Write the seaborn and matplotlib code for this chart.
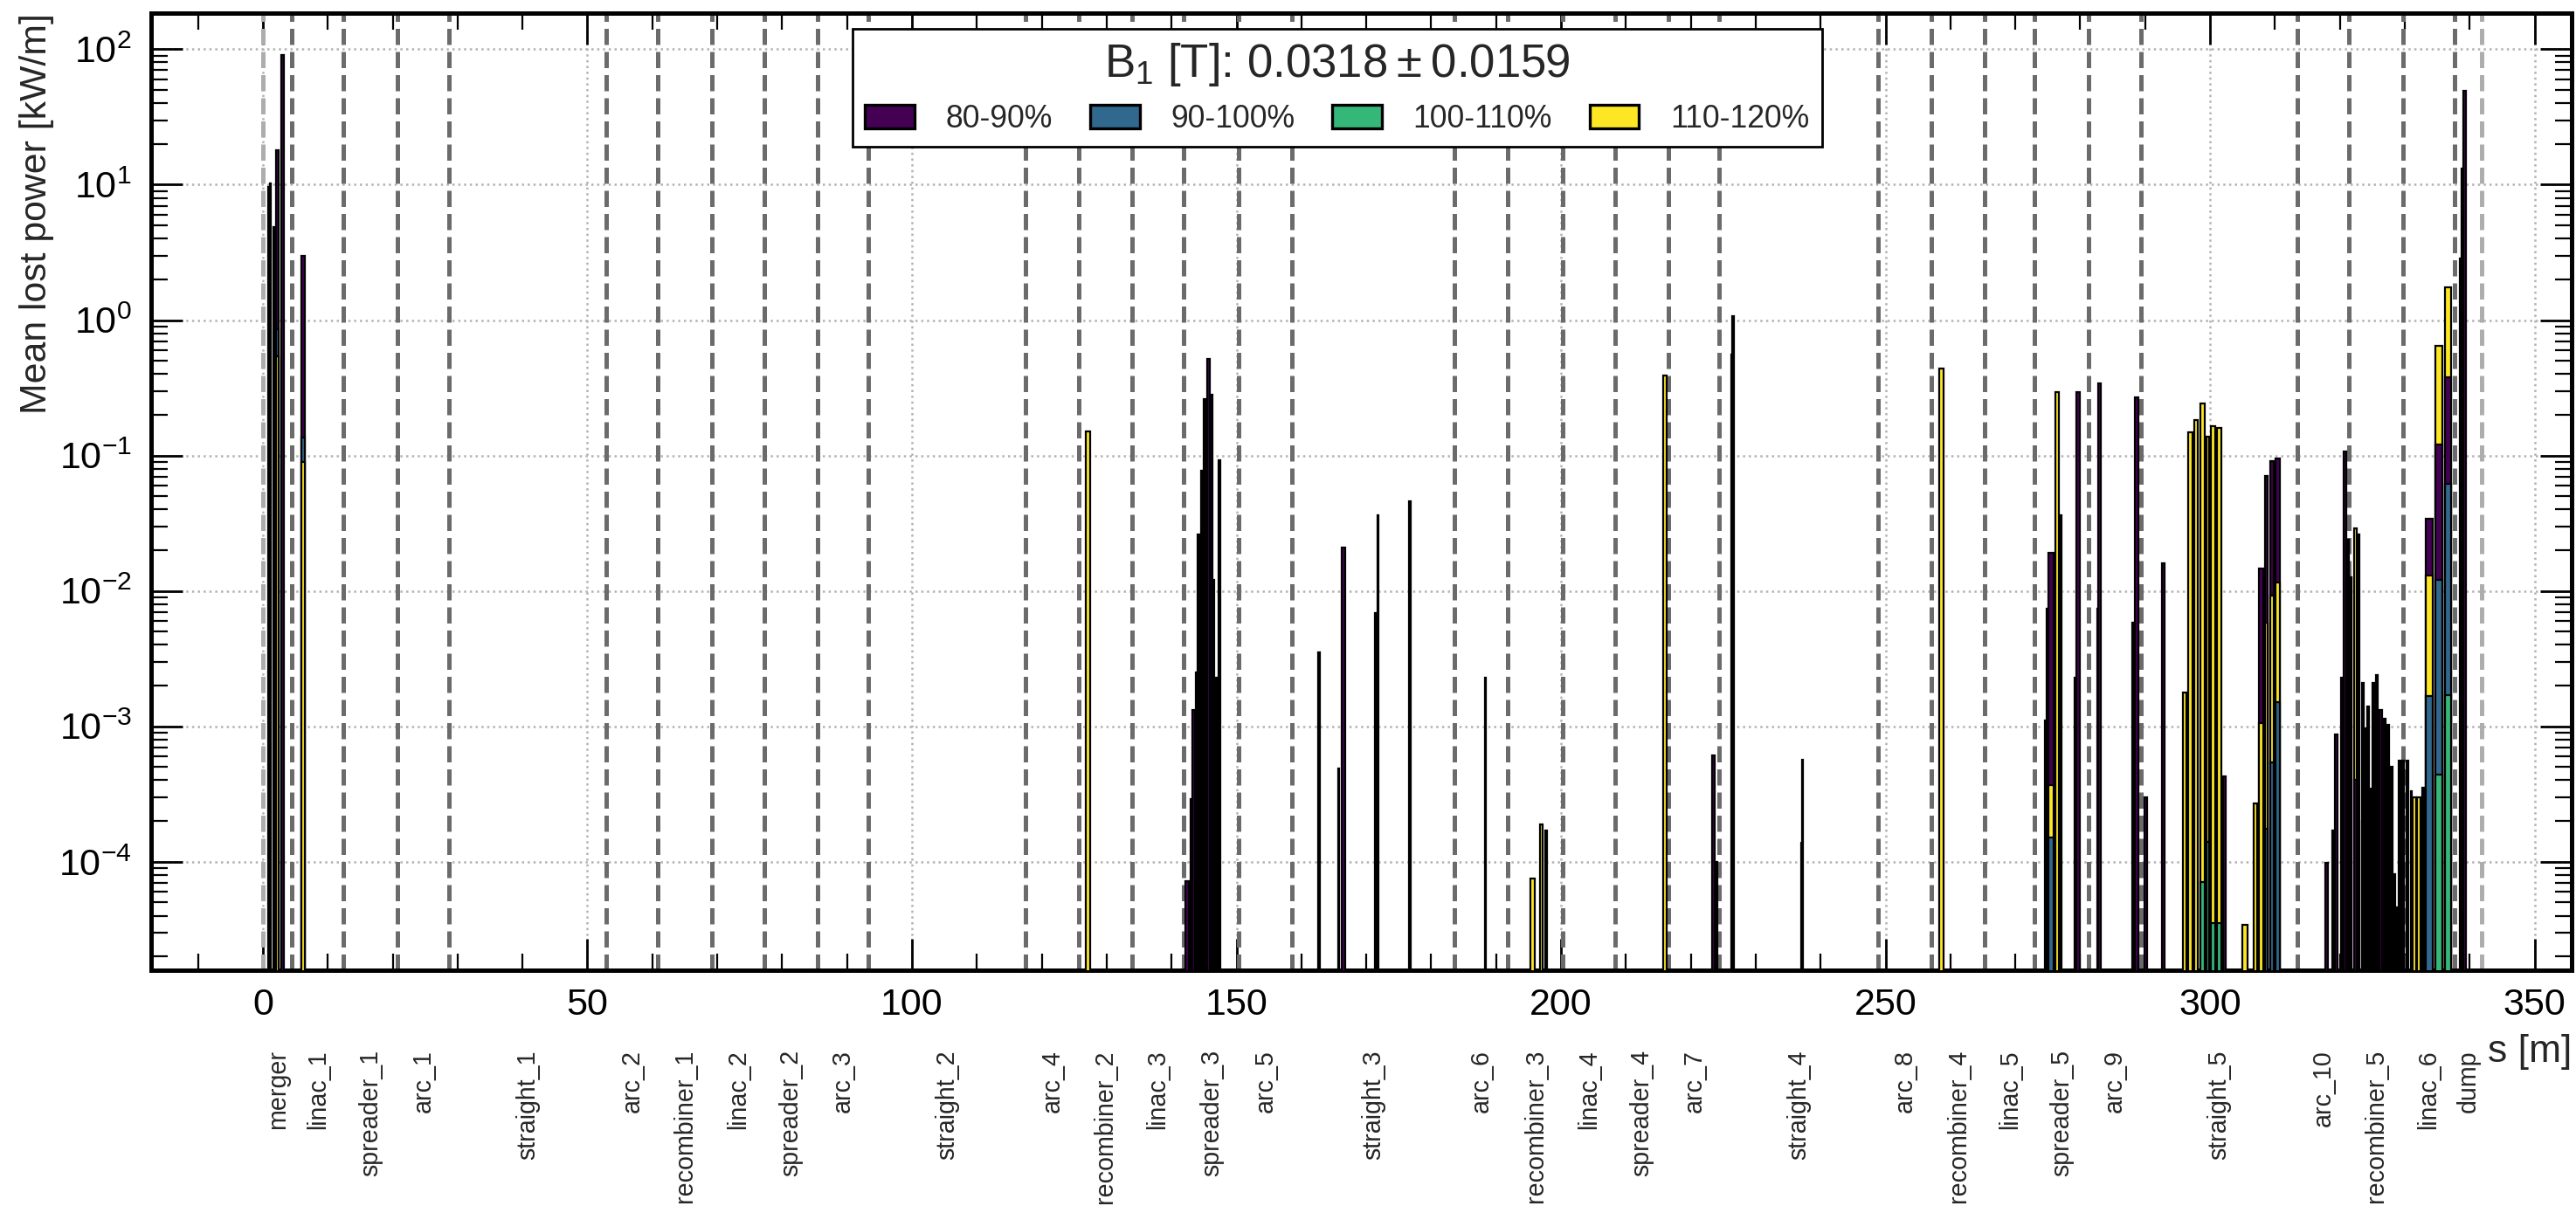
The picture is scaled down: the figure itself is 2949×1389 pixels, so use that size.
import numpy as np
import matplotlib
matplotlib.use("Agg")
import matplotlib.pyplot as plt
import seaborn as sns
from matplotlib.patches import Patch
from matplotlib.ticker import MultipleLocator, LogLocator, NullFormatter

# element centre along the machine [m] and element length [m]
elem_s = [0.85, 1.2, 1.7, 2.25, 3.07, 6.26,
          127.1,
          142.45, 143.0, 143.4, 143.8, 144.15, 144.65, 145.1, 145.7, 146.25, 146.5, 146.85, 147.4,
          162.7, 165.8, 166.5, 171.45, 171.8, 176.7, 188.4, 195.65, 197.0, 197.7,
          216.0, 223.5, 223.95, 226.25, 226.5, 237.0, 237.2, 258.6,
          274.6, 274.9, 275.5, 276.4, 276.95, 279.2, 279.7, 282.7, 282.95, 288.15, 288.65, 290.1, 292.85,
          296.1, 296.95, 297.85, 298.8, 299.65, 300.45, 301.4, 302.25, 305.4,
          306.95, 307.85, 308.7, 309.5, 310.4,
          317.95, 318.95, 319.45, 320.25, 320.8, 321.3, 321.75, 322.4, 322.9, 323.55, 323.9, 324.4, 324.75,
          325.2, 325.7, 326.3, 326.9, 327.45, 327.95, 328.45, 328.75, 329.15, 329.75, 330.35, 330.95,
          331.5, 332.15, 332.8, 333.75, 335.2, 336.7, 338.55, 338.8, 339.25]
elem_w = [0.15, 0.12, 0.12, 0.5, 0.45, 0.55,
          0.62,
          0.55, 0.12, 0.3, 0.12, 0.25, 0.15, 0.3, 0.45, 0.12, 0.12, 0.12, 0.35,
          0.3, 0.15, 0.5, 0.15, 0.2, 0.2, 0.12, 0.6, 0.45, 0.2,
          0.62, 0.45, 0.2, 0.12, 0.3, 0.12, 0.2, 0.62,
          0.12, 0.12, 0.7, 0.55, 0.2, 0.12, 0.5, 0.12, 0.4, 0.2, 0.5, 0.5, 0.4,
          0.5, 0.6, 0.55, 0.7, 0.4, 0.6, 0.65, 0.4, 0.75,
          0.6, 0.6, 0.45, 0.5, 0.7,
          0.4, 0.15, 0.45, 0.2, 0.45, 0.15, 0.15, 0.3, 0.3, 0.3, 0.12, 0.25, 0.12,
          0.25, 0.35, 0.3, 0.25, 0.25, 0.25, 0.12, 0.12, 0.3, 0.3, 0.3, 0.15,
          0.45, 0.5, 0.3, 1.0, 1.05, 0.95, 0.15, 0.15, 0.35]

# mean lost power [kW/m] per B1 range, 0 = no loss
loss_80_90 = [9.6, 10.3, 4.9, 18.0, 91.0, 3.0,
              0,
              7.2e-5, 2.9e-4, 1.33e-3, 2.5e-3, 0, 0.077, 0, 0.52, 0.28, 0.012, 2.3e-3, 0.093,
              3.5e-3, 4.9e-4, 0.021, 6.9e-3, 0.036, 0.046, 2.3e-3, 0, 0, 1.7e-4,
              0, 6.1e-4, 1.0e-4, 0.56, 1.07, 1.4e-4, 5.7e-4, 0,
              1.1e-3, 7.4e-3, 0.019, 0, 0.036, 2.3e-3, 0.296, 7.4e-3, 0.34, 5.8e-3, 0.27, 3.0e-4, 0.016,
              0, 0, 0, 0, 0, 0, 0, 4.3e-4, 0,
              0, 0.0146, 0.071, 0.091, 0.095,
              9.8e-5, 1.7e-4, 8.7e-4, 2.3e-3, 0.107, 0.024, 0.0126, 4e-4, 0.026, 2e-4, 0, 1.4e-3, 3.5e-4,
              0, 2.4e-3, 1.33e-3, 1.14e-3, 1.03e-3, 0, 8.1e-5, 0, 5.6e-4, 5.6e-4, 5.6e-4, 3.3e-4,
              0, 0, 3.5e-4, 0.034, 0.12, 0.38, 2.86, 13.2, 49.0]
loss_90_100 = [0, 0, 0, 0.86, 0, 0.135,
               0,
               0, 0, 0, 0, 0, 0, 0, 0, 0, 0, 0, 0,
               0, 0, 0, 0, 0, 0, 0, 0, 0, 0,
               0, 0, 0, 0, 0, 0, 0, 0,
               0, 0, 1.5e-4, 0, 0, 0, 0, 0, 0, 0, 0, 0, 0,
               0, 0, 0, 0, 0, 0, 0, 0, 0,
               0, 0, 1.76e-4, 5.4e-4, 1.5e-3,
               0, 0, 0, 0, 0, 0, 0, 0, 0, 0, 0, 0, 0,
               0, 0, 0, 0, 0, 0, 0, 0, 0, 0, 0, 0,
               0, 0, 0, 1.67e-3, 0.012, 0.062, 0, 0, 0]
loss_100_110 = [0, 0, 0, 0, 0, 0,
                0,
                0, 0, 0, 0, 0, 0, 0, 0, 0, 0, 0, 0,
                0, 0, 0, 0, 0, 0, 0, 0, 0, 0,
                0, 0, 0, 0, 0, 0, 0, 0,
                0, 0, 0, 0, 0, 0, 0, 0, 0, 0, 0, 0, 0,
                0, 0, 0, 7.1e-5, 1.4e-4, 3.5e-5, 3.5e-5, 0, 0,
                0, 0, 0, 0, 0,
                0, 0, 0, 0, 0, 0, 0, 0, 0, 0, 0, 0, 0,
                0, 0, 0, 0, 0, 0, 0, 0, 0, 0, 0, 0,
                0, 0, 0, 0, 4.4e-4, 1.7e-3, 0, 0, 0]
loss_110_120 = [0, 0, 0, 0.54, 0, 0.089,
                0.15,
                0, 0, 0, 0, 0.026, 0, 0.26, 0, 0, 0, 1.3e-3, 0,
                0, 0, 0, 0, 0, 0, 0, 7.5e-5, 1.9e-4, 0,
                0.39, 0, 0, 0, 0, 0, 0, 0.44,
                0, 0, 3.7e-4, 0.294, 0, 0, 0, 0, 0, 0, 0, 0, 0,
                1.78e-3, 0.149, 0.183, 0.242, 0.137, 0.165, 0.16, 0, 3.4e-5,
                2.7e-4, 1.06e-3, 5.8e-3, 9.3e-3, 0.0115,
                0, 0, 0, 0, 0, 0, 0, 0.029, 0, 2.1e-3, 9.7e-4, 0, 0,
                2.1e-3, 0, 0, 0, 0, 5.0e-4, 0, 4.6e-5, 0, 0, 0, 0,
                3.0e-4, 3.0e-4, 0, 0.013, 0.65, 1.74, 0, 0, 0]

range_labels = ["80-90%", "90-100%", "100-110%", "110-120%"]
legend_title = r"B$_1$ [T]: $0.0318\pm0.0159$"

section_names = ["merger", "linac_1", "spreader_1", "arc_1", "straight_1", "arc_2",
                 "recombiner_1", "linac_2", "spreader_2", "arc_3", "straight_2", "arc_4",
                 "recombiner_2", "linac_3", "spreader_3", "arc_5", "straight_3", "arc_6",
                 "recombiner_3", "linac_4", "spreader_4", "arc_7", "straight_4", "arc_8",
                 "recombiner_4", "linac_5", "spreader_5", "arc_9", "straight_5", "arc_10",
                 "recombiner_5", "linac_6", "dump"]
section_edges = [0, 4.5, 12.4, 20.8, 28.7, 52.9, 60.9, 69.2, 77.2, 85.5, 93.3, 117.5,
                 125.7, 133.9, 141.9, 150.4, 158.5, 183.6, 191.8, 200.3, 208.3, 216.6,
                 224.4, 248.8, 257.1, 265.3, 273.0, 281.3, 289.3, 313.5, 321.4, 329.7,
                 337.7, 341.9]

sns.set_theme(style="ticks")
plt.rcParams["font.family"] = ["Liberation Sans", "DejaVu Sans"]
plt.rcParams["mathtext.default"] = "regular"

cmap = sns.color_palette("viridis", as_cmap=True)
colors = [cmap(v) for v in np.linspace(0, 1, 4)]

fig = plt.figure(figsize=(14.745, 6.945), dpi=200)
ax = fig.add_axes([0.0587, 0.2001, 0.9396, 0.7891])
ax.set_yscale("log")

s = np.array(elem_s)
w = np.array(elem_w)
vals = np.array([loss_80_90, loss_90_100, loss_100_110, loss_110_120], dtype=float)
# tallest drawn first so that every range stays visible
rank = (-vals).argsort(axis=0).argsort(axis=0)
for k in range(4):
    m = vals[k] > 0
    bars = ax.bar(s[m], vals[k][m], width=w[m], bottom=1e-7, color=colors[k],
                  edgecolor="black", linewidth=0.8, align="center")
    for patch, r in zip(bars.patches, rank[k][m]):
        patch.set_zorder(3 + r)

# section boundaries
for i, x in enumerate(section_edges):
    outer = i == 0 or i == len(section_edges) - 1
    ax.axvline(x, color="0.68" if outer else "0.42", ls=(0, (3.7, 1.6)), lw=1.8, zorder=2)

trans = ax.get_xaxis_transform()
for name, a, b in zip(section_names, section_edges[:-1], section_edges[1:]):
    ax.text((a + b) / 2, -0.083, name, transform=trans, rotation=90, ha="center",
            va="top", fontsize=10.3)

ax.set_xlim(-17.2, 355.7)
ax.set_ylim(1.58e-5, 185)

ax.xaxis.set_major_locator(MultipleLocator(50))
ax.xaxis.set_minor_locator(MultipleLocator(10))
ax.yaxis.set_major_locator(LogLocator(base=10, numticks=20))
ax.yaxis.set_minor_locator(LogLocator(base=10, subs=np.arange(2, 10), numticks=20))
ax.yaxis.set_minor_formatter(NullFormatter())
ax.tick_params(which="both", direction="in", top=True, right=True, colors="black")
ax.tick_params(which="major", length=13, width=1.0, labelsize=15.5)
ax.tick_params(axis="x", which="major", pad=7)
ax.tick_params(axis="y", which="major", pad=8)
ax.tick_params(which="minor", length=7, width=0.8)
ax.grid(True, which="major", ls=":", color="0.7", lw=0.9, zorder=0)
for sp in ax.spines.values():
    sp.set_linewidth(1.8)
    sp.set_color("black")

ax.set_ylabel("Mean lost power [kW/m]", fontsize=15.4, loc="top", labelpad=2)
ax.set_xlabel("s [m]", fontsize=16, loc="right", labelpad=5)

handles = [Patch(facecolor=c, edgecolor="black", linewidth=1.2, label=l)
           for c, l in zip(colors, range_labels)]
leg = ax.legend(handles=handles, title=legend_title, ncol=4, loc="upper center",
                bbox_to_anchor=(0.49, 0.984), borderaxespad=0, fontsize=12.8,
                title_fontsize=19, frameon=True, fancybox=False, framealpha=1,
                edgecolor="black", handlelength=1.6, handleheight=0.8,
                handletextpad=1.0, columnspacing=1.2)
leg.get_frame().set_linewidth(1.0)
leg.set_zorder(20)

fig.savefig("out.png", dpi=200)
